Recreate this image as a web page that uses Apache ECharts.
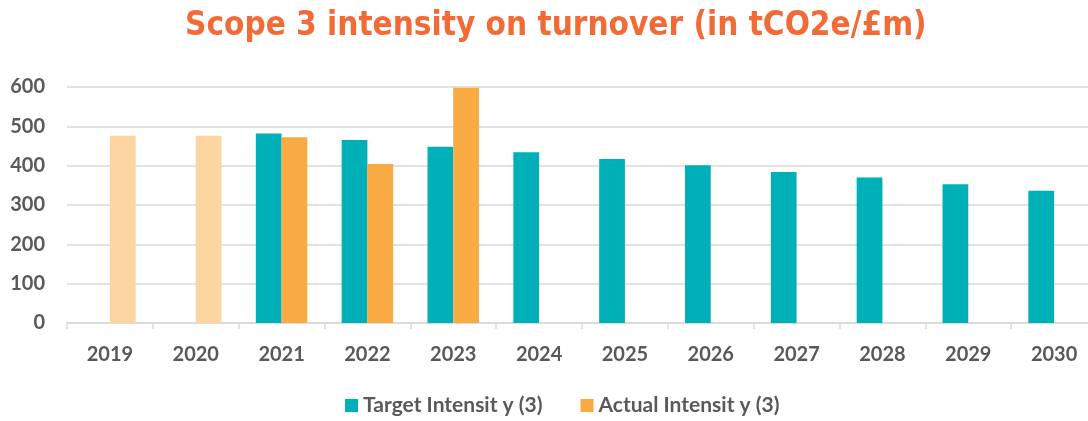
<!DOCTYPE html>
<html>
<head>
<meta charset="utf-8">
<script src="https://cdn.jsdelivr.net/npm/echarts@6/dist/echarts.min.js"></script>
<style>
  html, body { margin: 0; padding: 0; background: #fff; overflow: hidden; }
  /* plot runs a few pixels past the right edge, as in the original */
  #chart { width: 1097px; height: 421px; }
</style>
</head>
<body>
<div id="chart"></div>
<script>
// data
var years = ['2019', '2020', '2021', '2022', '2023', '2024', '2025', '2026', '2027', '2028', '2029', '2030'];
var targetIntensity = [null, null, 482, 465, 448, 434, 417, 401, 384, 370, 353, 336];
var actualIntensity = [476, 476, 472, 404, 598, null, null, null, null, null, null, null];
var yTicks = [0, 100, 200, 300, 400, 500, 600];

var teal = '#00B0B9';
var orange = '#F9AA43';
var paleOrange = '#FDD5A1';

var chart = echarts.init(document.getElementById('chart'));

var option = {
  animation: false,
  title: {
    text: 'Scope 3 intensity on turnover (in tCO2e/£m)',
    left: 180,
    top: 5,
    textStyle: {
      fontFamily: 'DejaVu Sans Condensed',
      fontSize: 33,
      fontWeight: 'bold',
      color: '#F26A36'
    }
  },
  legend: {
    bottom: 0,
    left: 340,
    itemWidth: 13,
    itemHeight: 13,
    itemGap: 38,
    icon: 'rect',
    textStyle: {
      fontFamily: 'Lato',
      fontSize: 21,
      fontWeight: 'bold',
      color: '#595959'
    },
    data: ['Target Intensit y (3)', 'Actual Intensit y (3)']
  },
  grid: {
    left: 67,
    right: 0,
    top: 87,
    bottom: 98
  },
  xAxis: {
    type: 'category',
    data: years,
    axisLine: { lineStyle: { color: '#D9D9D9', width: 1.5 } },
    axisTick: { show: true, length: 6, lineStyle: { color: '#D9D9D9', width: 1.5 } },
    axisLabel: {
      margin: 22,
      fontFamily: 'Lato',
      fontSize: 20,
      fontWeight: 'bold',
      color: '#595959'
    }
  },
  yAxis: {
    type: 'value',
    min: yTicks[0],
    max: yTicks[yTicks.length - 1],
    interval: 100,
    axisLine: { show: false },
    axisTick: { show: false },
    splitLine: { lineStyle: { color: '#D9D9D9', width: 1.5 } },
    axisLabel: {
      margin: 22,
      fontFamily: 'Lato',
      fontSize: 20,
      fontWeight: 'bold',
      color: '#595959'
    }
  },
  series: [
    {
      name: 'Target Intensit y (3)',
      type: 'bar',
      data: targetIntensity,
      itemStyle: { color: teal },
      barGap: '0%',
      barCategoryGap: '40%'
    },
    {
      name: 'Actual Intensit y (3)',
      type: 'bar',
      itemStyle: { color: orange },
      // the two baseline years are drawn in a paler orange
      data: actualIntensity.map(function (v, i) {
        return i < 2 ? { value: v, itemStyle: { color: paleOrange } } : v;
      })
    }
  ]
};

chart.setOption(option);
</script>
</body>
</html>
